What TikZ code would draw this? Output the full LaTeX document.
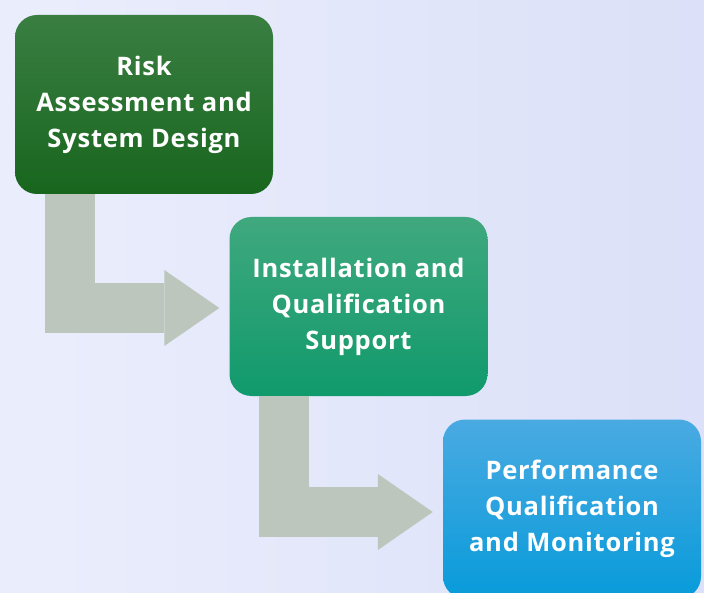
\documentclass[tikz,border=0pt]{standalone}
\usepackage{fontspec}
\setmainfont{Open Sans}[LetterSpace=3.0]
\usetikzlibrary{arrows.meta,calc}
\definecolor{bgL}{RGB}{234,238,252}
\definecolor{bgR}{RGB}{220,224,248}
\definecolor{gAt}{RGB}{58,126,66}
\definecolor{gAb}{RGB}{24,102,30}
\definecolor{gBt}{RGB}{64,168,126}
\definecolor{gBb}{RGB}{16,154,108}
\definecolor{gCt}{RGB}{74,170,226}
\definecolor{gCb}{RGB}{8,155,218}
\definecolor{flowc}{RGB}{189,198,188}
\tikzset{
  stepbox/.style={rounded corners=22pt, minimum width=258pt, minimum height=179pt,
    inner sep=0pt, align=center, text=white,
    font=\fontsize{25.5}{36}\selectfont\bfseries},
  flow/.style={draw=flowc, line width=50pt, line cap=butt, line join=miter,
    -{Triangle[length=55pt,width=76pt,line width=0pt,fill=flowc]}, shorten >=10pt}
}
\begin{document}
\begin{tikzpicture}[x=1pt,y=-1pt]
\shade[left color=bgL,right color=bgR] (0,0) rectangle (704,593);
\useasboundingbox (0,0) rectangle (704,593);
\node[stepbox, top color=gAt, bottom color=gAb] (b1) at (144,104.5) {Risk\\Assessment and\\System Design};
\node[stepbox, top color=gBt, bottom color=gBb] (b2) at (358.5,306.5) {Installation and\\Qualification\\Support};
\node[stepbox, top color=gCt, bottom color=gCb] (b3) at (572,509) {Performance\\Qualification\\and Monitoring};
\coordinate (s1) at ($(b1.south west)+(55,0)$);
\coordinate (s2) at ($(b2.south west)+(55,0)$);
\draw[flow] (s1) |- ($(b2.west)+(0,1.5)$);
\draw[flow] (s2) |- ($(b3.west)+(0,3)$);
\end{tikzpicture}
\end{document}
